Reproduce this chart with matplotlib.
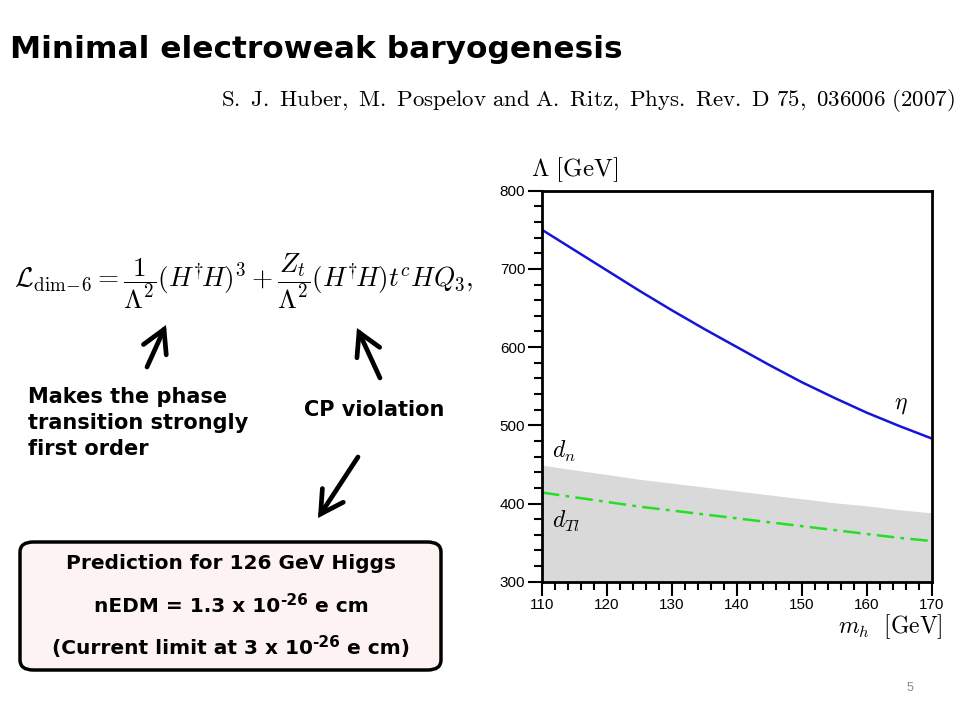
import matplotlib
matplotlib.use("Agg")
import numpy as np
from matplotlib import pyplot as plt
from matplotlib.patches import FancyBboxPatch, FancyArrowPatch
from matplotlib.ticker import MultipleLocator

plt.rcParams['font.family'] = ['Liberation Sans', 'DejaVu Sans']
plt.rcParams['mathtext.fontset'] = 'cm'

# values
mh = [110, 115, 120, 125, 130, 135, 140, 145, 150, 155, 160, 165, 170]
lam_eta = [750, 724, 698, 672, 647, 623, 600, 577, 555, 535, 516, 499, 483]
lam_dn = [449, 443, 437, 431, 426, 421, 416, 411, 406, 401, 397, 392, 388]
lam_dtl = [414, 408, 402, 396, 391, 386, 381, 376, 371, 366, 361, 356, 352]

title = "Minimal electroweak baryogenesis"
citation = (r"$\mathrm{S.\ J.\ Huber,\ M.\ Pospelov\ and\ A.\ Ritz,\ Phys.\ Rev.\ D}"
            r"\ \mathbf{75}\mathrm{,\ 036006\ (2007)}$")
lagrangian = (r"$\mathcal{L}_{\rm dim\!-\!6} = \dfrac{1}{\Lambda^2}(H^{\dagger}\!H)^3"
              r" + \dfrac{Z_t}{\Lambda^2}(H^{\dagger}\!H)t^c H Q_3,$")
# (text, superscript, text after)
box_lines = [("Prediction for 126 GeV Higgs", "", ""),
             ("nEDM = 1.3 x 10", "-26", " e cm"),
             ("(Current limit at 3 x 10", "-26", " e cm)")]

W, H = 960, 720


def fy(y):
    # slide pixel (from top) -> figure fraction
    return 1 - y / H


fig = plt.figure(figsize=(9.6, 7.2), dpi=100)
renderer = fig.canvas.get_renderer()

# ---- the plot ----
ax = fig.add_axes([542 / W, fy(581.7), 390 / W, (581.7 - 190.7) / H])
ax.fill_between(mh, 300, lam_dn, color='#d9d9d9', lw=0)
ax.plot(mh, lam_eta, color='#1515d8', lw=1.8)
ax.plot(mh, lam_dtl, color='#22e022', lw=1.8, linestyle=(0, (7, 2.5, 1.5, 2.5)))
ax.set_xlim(110, 170)
ax.set_ylim(300, 800)
ax.xaxis.set_major_locator(MultipleLocator(10))
ax.xaxis.set_minor_locator(MultipleLocator(2))
ax.yaxis.set_major_locator(MultipleLocator(100))
ax.yaxis.set_minor_locator(MultipleLocator(20))
ax.tick_params(which='both', direction='out', width=1.5, labelsize=11, pad=2)
ax.tick_params(which='major', length=10)
ax.tick_params(which='minor', length=6)
for s in ax.spines.values():
    s.set_linewidth(2)

ax.text(164.2, 526, r"$\eta$", fontsize=17, ha='left', va='center')
ax.text(111.5, 466, r"$d_n$", fontsize=17, ha='left', va='center')
ax.text(111.5, 377, r"$d_{Tl}$", fontsize=17, ha='left', va='center')
fig.text(531 / W, fy(170), r"$\Lambda\ [\mathrm{GeV}]$", fontsize=18, ha='left', va='center')
fig.text(943 / W, fy(627), r"$m_h\ \ [\mathrm{GeV}]$", fontsize=17, ha='right', va='center')

# ---- slide text ----
side = ['DejaVu Sans']
fig.text(10 / W, fy(50), title, fontsize=22.5, fontweight='bold', family=side,
         ha='left', va='center')
fig.text(955 / W, fy(101), citation, fontsize=16.5, ha='right', va='center')
fig.text(14 / W, fy(281), lagrangian, fontsize=19.5, ha='left', va='center')

fig.text(28 / W, fy(423), "Makes the phase\ntransition strongly\nfirst order",
         fontsize=15, fontweight='bold', family=side, ha='left', va='center',
         linespacing=1.35)
fig.text(374 / W, fy(410), "CP violation", fontsize=15, fontweight='bold',
         family=side, ha='center', va='center')

# hand-drawn style arrows
for (x0, y0), (x1, y1) in [((147, 367), (166, 325)),
                           ((380, 378), (357, 328)),
                           ((358, 457), (318, 518))]:
    fig.add_artist(FancyArrowPatch(
        (x0 / W, fy(y0)), (x1 / W, fy(y1)), transform=fig.transFigure,
        arrowstyle='->,head_length=0.8,head_width=0.45', mutation_scale=20,
        lw=3.4, color='black', shrinkA=0, shrinkB=0, capstyle='round',
        joinstyle='miter'))

# ---- prediction box ----
box = FancyBboxPatch((20 / W, fy(670)), 421 / W, 128 / H,
                     boxstyle='round,pad=0,rounding_size=0.014',
                     transform=fig.transFigure, facecolor='#fdf3f3',
                     edgecolor='black', lw=2.5)
fig.add_artist(box)

fs, fs_sup = 14.5, 11
for (pre, sup, post), y in zip(box_lines, [563, 606, 648]):
    pieces = [(pre, fs, 0), (sup, fs_sup, 7), (post, fs, 0)]
    arts = []
    for txt, size, rise in pieces:
        t = fig.text(0, fy(y) + rise / H, txt, fontsize=size, fontweight='bold',
                     family=side, ha='left', va='baseline')
        arts.append(t)
    widths = [a.get_window_extent(renderer).width if a.get_text() else 0 for a in arts]
    x = 231 - sum(widths) / 2
    for a, w in zip(arts, widths):
        a.set_x(x / W)
        x += w
    # shift so the line's visual centre sits at y
    for a in arts:
        a.set_y(a.get_position()[1] - 6 / H)

fig.text(910 / W, fy(688), "5", fontsize=9, color='#888888', ha='center', va='center')

fig.savefig("out.png", dpi=100)
